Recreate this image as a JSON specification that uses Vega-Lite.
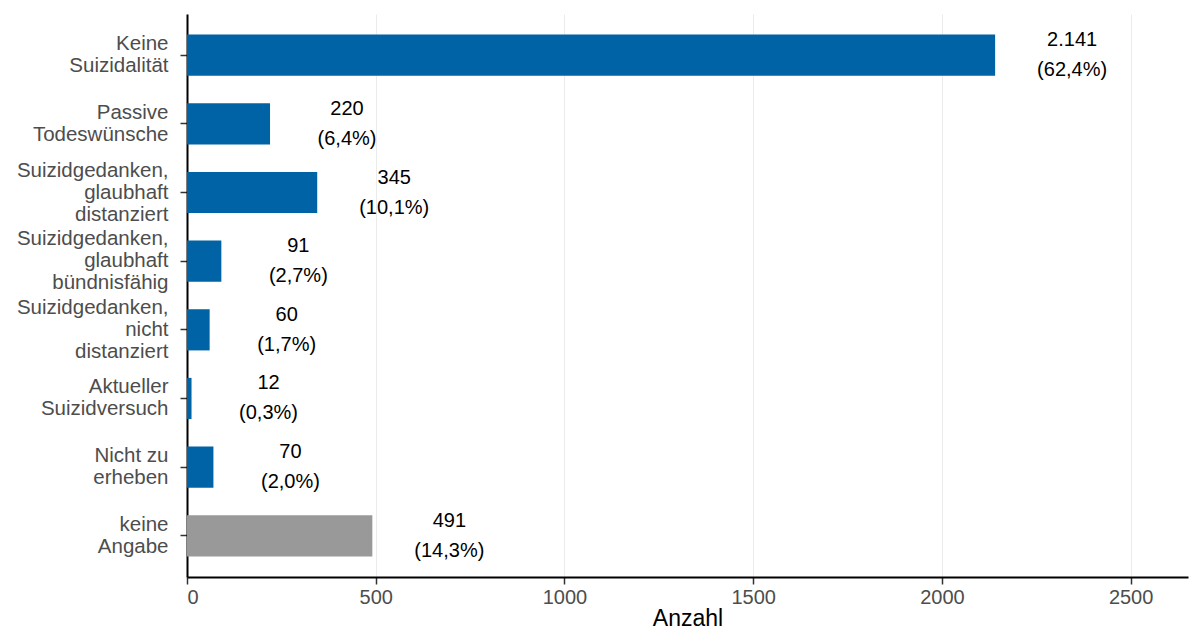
{
  "$schema": "https://vega.github.io/schema/vega-lite/v6.json",
  "width": 1001,
  "height": 563,
  "autosize": {"type": "none"},
  "padding": {"left": 187, "top": 14, "right": 2, "bottom": 50},
  "background": "white",
  "config": {"view": {"stroke": null}, "font": "Liberation Sans"},
  "data": {
    "values": [
      {"kategorie": "Keine\nSuizidalität", "anzahl": 2141, "label": "2.141\n(62,4%)", "gruppe": "angabe"},
      {"kategorie": "Passive\nTodeswünsche", "anzahl": 220, "label": "220\n(6,4%)", "gruppe": "angabe"},
      {"kategorie": "Suizidgedanken,\nglaubhaft\ndistanziert", "anzahl": 345, "label": "345\n(10,1%)", "gruppe": "angabe"},
      {"kategorie": "Suizidgedanken,\nglaubhaft\nbündnisfähig", "anzahl": 91, "label": "91\n(2,7%)", "gruppe": "angabe"},
      {"kategorie": "Suizidgedanken,\nnicht\ndistanziert", "anzahl": 60, "label": "60\n(1,7%)", "gruppe": "angabe"},
      {"kategorie": "Aktueller\nSuizidversuch", "anzahl": 12, "label": "12\n(0,3%)", "gruppe": "angabe"},
      {"kategorie": "Nicht zu\nerheben", "anzahl": 70, "label": "70\n(2,0%)", "gruppe": "angabe"},
      {"kategorie": "keine\nAngabe", "anzahl": 491, "label": "491\n(14,3%)", "gruppe": "keine"}
    ]
  },
  "encoding": {
    "y": {
      "field": "kategorie",
      "type": "nominal",
      "sort": null,
      "scale": {"paddingInner": 0.4, "paddingOuter": 0.3},
      "axis": {
        "title": null,
        "grid": false,
        "domain": true,
        "domainColor": "#000000",
        "domainWidth": 2,
        "ticks": true,
        "tickColor": "#333333",
        "tickSize": 7,
        "tickWidth": 1.5,
        "labelExpr": "split(datum.label, '\\n')",
        "labelFontSize": 20.5,
        "labelColor": "#4D4D4D",
        "labelPadding": 12,
        "labelLineHeight": 22,
        "labelAlign": "right",
        "labelBaseline": "middle",
        "labelOffset": {
          "condition": {"test": "length(split(datum.value, '\\n')) > 2", "value": -22},
          "value": -11
        }
      }
    },
    "x": {
      "field": "anzahl",
      "type": "quantitative",
      "scale": {"domain": [0, 2652], "nice": false, "zero": true},
      "axis": {
        "values": [0, 500, 1000, 1500, 2000, 2500],
        "format": "d",
        "title": "Anzahl",
        "titleFontSize": 23,
        "titleFontWeight": "normal",
        "titleColor": "#000000",
        "titlePadding": 0,
        "grid": true,
        "gridColor": "#EBEBEB",
        "gridWidth": 1,
        "domainColor": "#000000",
        "domainWidth": 2,
        "tickColor": "#333333",
        "tickSize": 7,
        "tickWidth": 1.5,
        "labelFontSize": 20,
        "labelColor": "#4D4D4D",
        "labelPadding": 3
      }
    }
  },
  "layer": [
    {
      "mark": {"type": "bar"},
      "encoding": {
        "color": {
          "field": "gruppe",
          "type": "nominal",
          "scale": {"domain": ["angabe", "keine"], "range": ["#0063A6", "#999999"]},
          "legend": null
        }
      }
    },
    {
      "mark": {
        "type": "text",
        "align": "center",
        "baseline": "middle",
        "dx": 77,
        "dy": -15,
        "fontSize": 20,
        "lineHeight": 30,
        "lineBreak": "\n",
        "color": "#000000"
      },
      "encoding": {"text": {"field": "label"}}
    }
  ]
}
